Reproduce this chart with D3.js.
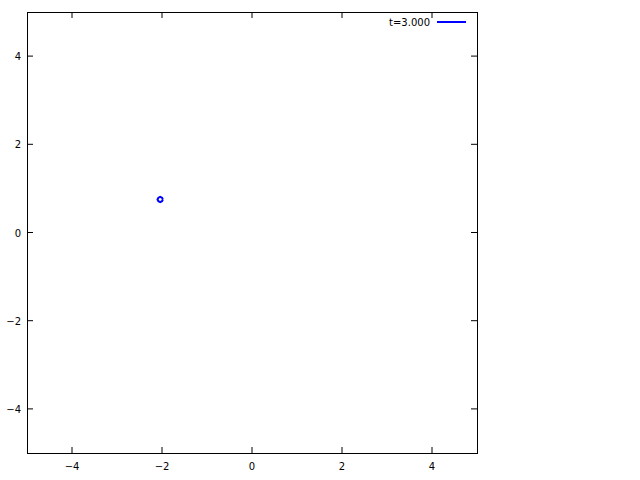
<!DOCTYPE html>
<html><head><meta charset="utf-8">
<script src="https://cdn.jsdelivr.net/npm/d3@7"></script>
<style>body{margin:0;background:#fff}svg{display:block}text{font-family:"DejaVu Sans",sans-serif;font-size:10px;fill:#000}</style>
</head><body>
<script>
const xTicks = [-4, -2, 0, 2, 4];
const yTicks = [-4, -2, 0, 2, 4];
const legendLabel = "t=3.000";
const curveX = [-1.98, -2.0, -2.04, -2.08, -2.1, -2.08, -2.04, -2.0, -1.98];
const curveY = [0.75, 0.79, 0.81, 0.79, 0.75, 0.71, 0.69, 0.71, 0.75];

const W = 640, H = 480;
const L = 27, R = 477, T = 12, B = 453;
const svg = d3.select("body").append("svg").attr("width", W).attr("height", H);
const x = d3.scaleLinear().domain([-5, 5]).range([L, R]);
const y = d3.scaleLinear().domain([-5, 5]).range([B, T]);

const g = svg.append("g");
const tl = 6;
xTicks.forEach(v => {
  g.append("line").attr("x1", x(v)).attr("x2", x(v)).attr("y1", B).attr("y2", B - tl).attr("stroke", "#000");
  g.append("line").attr("x1", x(v)).attr("x2", x(v)).attr("y1", T).attr("y2", T + tl).attr("stroke", "#000");
  g.append("text").attr("x", x(v)).attr("y", B + 17).attr("text-anchor", "middle").text(d3.format("")(v).replace("-", "\u2212"));
});
yTicks.forEach(v => {
  g.append("line").attr("y1", y(v)).attr("y2", y(v)).attr("x1", L).attr("x2", L + tl).attr("stroke", "#000");
  g.append("line").attr("y1", y(v)).attr("y2", y(v)).attr("x1", R).attr("x2", R - tl).attr("stroke", "#000");
  g.append("text").attr("x", L - 6).attr("y", y(v) + 4).attr("text-anchor", "end").text(d3.format("")(v).replace("-", "\u2212"));
});
svg.append("rect").attr("x", L + 0.5).attr("y", T + 0.5).attr("width", R - L).attr("height", B - T)
  .attr("fill", "none").attr("stroke", "#000");

const pts = curveX.map((v, i) => [v, curveY[i]]);
svg.append("path").datum(pts)
  .attr("d", d3.line().x(d => x(d[0])).y(d => y(d[1])))
  .attr("fill", "none").attr("stroke", "#0000ff").attr("stroke-width", 2);

svg.append("text").attr("x", 430).attr("y", 26).attr("text-anchor", "end").text(legendLabel);
svg.append("line").attr("x1", 437).attr("x2", 466).attr("y1", 22).attr("y2", 22).attr("stroke", "#0000ff").attr("stroke-width", 2);
</script>
</body></html>
